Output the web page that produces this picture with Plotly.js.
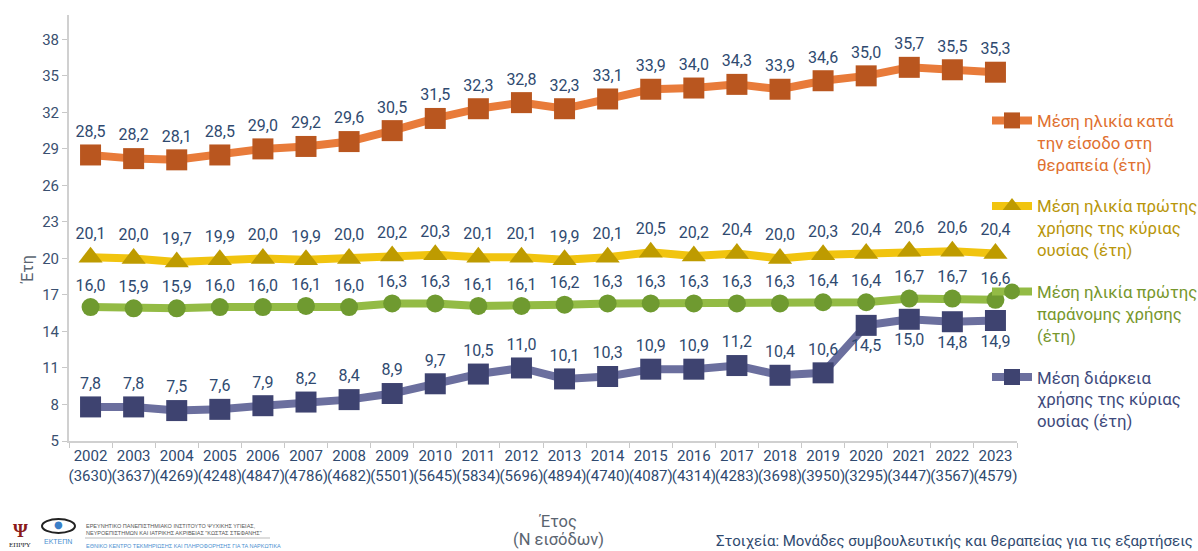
<!DOCTYPE html>
<html><head><meta charset="utf-8">
<script src="https://cdn.plot.ly/plotly-3.0.1.min.js"></script>
<style>html,body{margin:0;padding:0;background:#fff}#chart{width:1198px;height:551px}</style>
</head><body><div id="chart"></div>
<script>
const years = ["2002","2003","2004","2005","2006","2007","2008","2009","2010","2011","2012","2013","2014","2015","2016","2017","2018","2019","2020","2021","2022","2023"];
const entries = ["3630","3637","4269","4248","4847","4786","4682","5501","5645","5834","5696","4894","4740","4087","4314","4283","3698","3950","3295","3447","3567","4579"];
const ageAtEntry = [28.5,28.2,28.1,28.5,29.0,29.2,29.6,30.5,31.5,32.3,32.8,32.3,33.1,33.9,34.0,34.3,33.9,34.6,35.0,35.7,35.5,35.3];
const ageFirstUseMain = [20.1,20.0,19.7,19.9,20.0,19.9,20.0,20.2,20.3,20.1,20.1,19.9,20.1,20.5,20.2,20.4,20.0,20.3,20.4,20.6,20.6,20.4];
const ageFirstIllicit = [16.0,15.9,15.9,16.0,16.0,16.1,16.0,16.3,16.3,16.1,16.1,16.2,16.3,16.3,16.3,16.3,16.3,16.4,16.4,16.7,16.7,16.6];
const durationUse = [7.8,7.8,7.5,7.6,7.9,8.2,8.4,8.9,9.7,10.5,11.0,10.1,10.3,10.9,10.9,11.2,10.4,10.6,14.5,15.0,14.8,14.9];
const yTicks = [5,8,11,14,17,20,23,26,29,32,35,38];
const seriesNames = [
  ["Μέση ηλικία κατά","την είσοδο στη","θεραπεία (έτη)"],
  ["Μέση ηλικία πρώτης","χρήσης της κύριας","ουσίας (έτη)"],
  ["Μέση ηλικία πρώτης","παράνομης χρήσης","(έτη)"],
  ["Μέση διάρκεια","χρήσης της κύριας","ουσίας (έτη)"]
];

const cats = years.map((y,i)=>y+"<br>("+entries[i]+")");
const fmt = v => v.toFixed(1).replace('.',',');
function nm(lines,col){return lines.map(l=>"<span style='color:"+col+"'>"+l+"</span>").join("<br>");}
const labelFont = {family:"Roboto, 'Liberation Sans', sans-serif", size:16, color:"#2F4A70"};

function tr(vals, lineCol, markCol, sym, size, names, textCol, grp, pos){
  return {x:cats, y:vals, type:"scatter", mode:"lines+markers+text",
    line:{color:lineCol, width:8},
    marker:{color:markCol, symbol:sym, size:size, line:{width:0}},
    text:vals.map(fmt), textposition:pos, textfont:labelFont,
    name:nm(names,textCol), legendgroup:grp, cliponaxis:false, hoverinfo:"skip"};
}
const durPos = years.map(y => (+y >= 2020) ? "bottom center" : "top center");
const data = [
  tr(ageAtEntry,"#E87B3A","#B9561F","square",21,seriesNames[0],"#E0702F","a","top center"),
  tr(ageFirstUseMain,"#F1C40F","#BE9B00","triangle-up",21,seriesNames[1],"#B8960A","b","top center"),
  tr(ageFirstIllicit,"#93BB45","#6F9A30","circle",18,seriesNames[2],"#77972D","c","top center"),
  tr(durationUse,"#6B6F9E","#3E4370","square",21,seriesNames[3],"#3E4A7C","d",durPos)
];
const px = x => (x-69)/948;
const py = y => (441-y)/426;
const gray = "#5A6470";
const layout = {
  width:1198, height:551, margin:{l:69, r:181, t:15, b:110, autoexpand:false},
  paper_bgcolor:"#fff", plot_bgcolor:"#fff",
  font:{family:"Roboto, 'Liberation Sans', sans-serif", color:"#2F4A70"},
  showlegend:true,
  legend:{x:px(987), xanchor:"left", y:py(103), yanchor:"top", valign:"top",
    font:{size:16.8, family:"Roboto, sans-serif"}, tracegroupgap:17, itemwidth:40,
    bgcolor:"rgba(0,0,0,0)"},
  xaxis:{type:"category", range:[-0.5,21.5], showline:true, linecolor:"#D0D0D0", linewidth:2,
    ticks:"outside", tickson:"boundaries", ticklen:5, tickcolor:"#C8C8C8", showgrid:false,
    tickangle:0, tickfont:{size:15, color:"#2F4A70"}, fixedrange:true},
  yaxis:{range:[5,40], tickvals:yTicks, showline:true, linecolor:"#D0D0D0", linewidth:2,
    ticks:"outside", ticklen:5, tickcolor:"#C8C8C8", showgrid:false, zeroline:false,
    tickfont:{size:15, color:"#3A5070"}},
  annotations:[
    {xref:"paper", yref:"paper", x:px(15), y:py(270), textangle:-90, showarrow:false,
     text:"Έτη", font:{size:16, color:gray}},
    {xref:"paper", yref:"paper", x:px(558), y:py(521), xanchor:"center", yanchor:"middle", showarrow:false,
     text:"Έτος", font:{size:16.5, color:gray}},
    {xref:"paper", yref:"paper", x:px(558), y:py(551), xanchor:"center", yanchor:"bottom", showarrow:false,
     text:"(Ν εισόδων)", font:{size:16.5, color:gray}},
    {xref:"paper", yref:"paper", x:px(1195), y:py(541), xanchor:"right", yanchor:"middle", showarrow:false,
     text:"Στοιχεία: Μονάδες συμβουλευτικής και θεραπείας για τις εξαρτήσεις",
     font:{size:15, color:"#2F4A70"}},
    {xref:"paper", yref:"paper", x:px(84), y:py(521), xanchor:"left", yanchor:"top", showarrow:false, align:"left",
     text:"ΕΡΕΥΝΗΤΙΚΟ ΠΑΝΕΠΙΣΤΗΜΙΑΚΟ ΙΝΣΤΙΤΟΥΤΟ ΨΥΧΙΚΗΣ ΥΓΙΕΙΑΣ,<br>ΝΕΥΡΟΕΠΙΣΤΗΜΩΝ ΚΑΙ ΙΑΤΡΙΚΗΣ ΑΚΡΙΒΕΙΑΣ \"ΚΩΣΤΑΣ ΣΤΕΦΑΝΗΣ\"",
     font:{family:"'Liberation Sans', sans-serif", size:5.5, color:"#555"}},
    {xref:"paper", yref:"paper", x:px(84), y:py(541), xanchor:"left", yanchor:"top", showarrow:false, align:"left",
     text:"ΕΘΝΙΚΟ ΚΕΝΤΡΟ ΤΕΚΜΗΡΙΩΣΗΣ ΚΑΙ ΠΛΗΡΟΦΟΡΗΣΗΣ ΓΙΑ ΤΑ ΝΑΡΚΩΤΙΚΑ",
     font:{family:"'Liberation Sans', sans-serif", size:5.5, color:"#4A8FD0"}},
    {xref:"paper", yref:"paper", x:px(58), y:py(536), xanchor:"center", yanchor:"top", showarrow:false,
     text:"ΕΚΤΕΠΝ", font:{family:"'Liberation Sans', sans-serif", size:7, color:"#4A8FD0"}},
    {xref:"paper", yref:"paper", x:px(20), y:py(551), xanchor:"center", yanchor:"bottom", showarrow:false,
     text:"ΕΠΙΨΥ", font:{family:"'Liberation Serif', serif", size:7, color:"#222"}},
    {xref:"paper", yref:"paper", x:px(20), y:py(518), xanchor:"center", yanchor:"top", showarrow:false,
     text:"<b>Ψ</b>", font:{family:"'Liberation Serif', serif", size:19, color:"#8B1A1A"}},
    {xref:"paper", yref:"paper", x:px(58), y:py(517), xanchor:"center", yanchor:"top", showarrow:false,
     text:"●", font:{family:"'DejaVu Sans', sans-serif", size:10, color:"#3A7FC8"}}
  ],
  shapes:[
    {type:"line", xref:"paper", yref:"paper", x0:px(85), x1:px(270), y0:py(538), y1:py(538), line:{color:"#BBBBBB", width:1}},
    {type:"circle", xref:"paper", yref:"paper", x0:px(42), x1:px(75), y0:py(519), y1:py(533), line:{color:"#222", width:2}}
  ]
};
Plotly.newPlot("chart", data, layout, {staticPlot:true, displayModeBar:false});
</script></body></html>
